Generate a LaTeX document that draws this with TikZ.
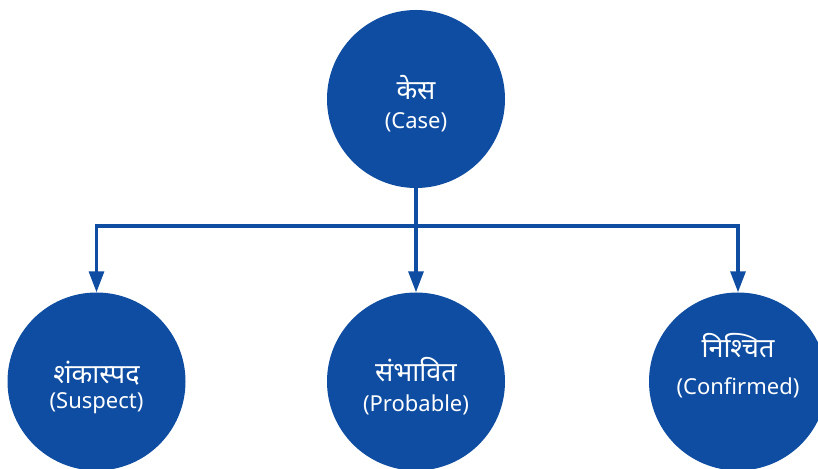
\documentclass[tikz,border=0pt]{standalone}
\usepackage{fontspec}
\setmainfont{Noto Sans}
\newfontfamily\devfont[Script=Devanagari]{Noto Sans}
\usetikzlibrary{arrows.meta}
\definecolor{caseblue}{RGB}{14,77,161}

\begin{document}
\begin{tikzpicture}[x=1pt, y=1pt,
        bubble/.style={circle, fill=caseblue, minimum size=178pt, inner sep=0pt},
        devtext/.style={font=\devfont\fontsize{27}{30}\selectfont, text=white},
        lattext/.style={font=\fontsize{22}{26}\selectfont, text=white},
        link/.style={draw=caseblue, line width=3.2pt},
        linkarrow/.style={link, -{Triangle[length=21pt, width=15pt]}},
    ]
        \useasboundingbox (0,0) rectangle (818,468);

        % Case on top
        \node[bubble] (case) at (416, 369) {};
        \node[devtext] (case-dev) at (416, 380) {केस};
        \node[lattext] (case-lat) at (416, 346) {(Case)};

        % The three kinds below
        \node[bubble] (suspect) at (96.5, 86.5) {};
        \node[devtext] (suspect-dev) at (96.5, 95) {शंकास्पद};
        \node[lattext] (suspect-lat) at (96.5, 65) {(Suspect)};

        \node[bubble] (probable) at (416, 86.5) {};
        \node[devtext] (probable-dev) at (416, 98) {संभावित};
        \node[lattext] (probable-lat) at (416, 63) {(Probable)};

        \node[bubble] (confirmed) at (738, 86.5) {};
        \node[devtext] (confirmed-dev) at (738, 122) {निश्चित};
        \node[lattext] (confirmed-lat) at (738, 80) {(Confirmed)};

        % Branching connectors
        \coordinate (split) at (416, 242);
        \draw[link] (case.south) -- (split);
        \draw[linkarrow] (split) -| (suspect.north);
        \draw[linkarrow] (split) -- (probable.north);
        \draw[linkarrow] (split) -| (confirmed.north);
    \end{tikzpicture}
\end{document}
